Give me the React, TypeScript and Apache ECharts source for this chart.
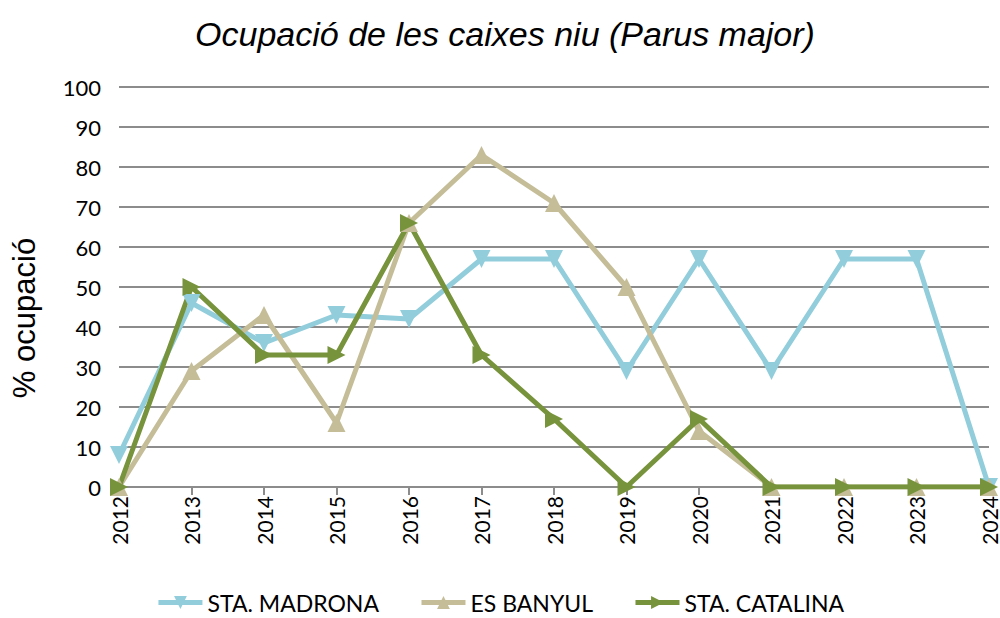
import React, { useEffect, useRef } from "react";
import * as echarts from "echarts";

const years = ["2012", "2013", "2014", "2015", "2016", "2017", "2018", "2019", "2020", "2021", "2022", "2023", "2024"];
const madrona = [8, 46, 36, 43, 42, 57, 57, 29, 57, 29, 57, 57, 0];
const banyul = [0, 29, 43, 16, 66, 83, 71, 50, 14, 0, 0, 0, 0];
const catalina = [0, 50, 33, 33, 66, 33, 17, 0, 17, 0, 0, 0, 0];

const FONT = "Lato, 'Open Sans', sans-serif";

export default function App() {
  const ref = useRef<HTMLDivElement>(null);
  useEffect(() => {
    const chart = echarts.init(ref.current!, null, { renderer: "svg" });
    const mk = (name: string, data: number[], color: string, rotate: number) => ({
      name,
      type: "line",
      data,
      symbol: "triangle",
      symbolSize: 18,
      symbolRotate: rotate,
      showSymbol: true,
      lineStyle: { color, width: 5 },
      itemStyle: { color, borderWidth: 0 },
      z: 3,
    });
    chart.setOption({
      animation: false,
      backgroundColor: "#ffffff",
      title: {
        text: "Ocupació de les caixes niu (Parus major)",
        left: 500,
        textAlign: "center",
        top: 12,
        textStyle: { fontFamily: "'Liberation Sans', Arial, sans-serif", fontStyle: "italic", fontWeight: "normal", fontSize: 34, color: "#000" },
      },
      grid: { left: 119, right: 11, top: 87, bottom: 131, containLabel: false },
      xAxis: {
        type: "category",
        data: years,
        boundaryGap: false,
        axisLine: { show: true, lineStyle: { color: "#8c8c8c", width: 2 } },
        axisTick: { show: true, alignWithLabel: true, length: 8, lineStyle: { color: "#8c8c8c", width: 2 } },
        axisLabel: { rotate: 90, fontSize: 21, color: "#000", fontFamily: FONT, margin: 9, interval: 0 },
      },
      yAxis: {
        type: "value",
        min: 0,
        max: 100,
        interval: 10,
        axisLine: { show: false },
        axisTick: { show: false },
        splitLine: { lineStyle: { color: "#8c8c8c", width: 2 } },
        axisLabel: { fontSize: 22, color: "#000", fontFamily: FONT, margin: 18 },
      },
      legend: {
        top: 586,
        left: "center",
        itemWidth: 44,
        itemHeight: 16,
        itemGap: 40,
        lineStyle: { width: 5 },
        textStyle: { fontSize: 23, color: "#000", fontFamily: FONT },
        data: ["STA. MADRONA", "ES BANYUL", "STA. CATALINA"],
      },
      graphic: [
        {
          type: "text",
          x: 24,
          y: 318,
          rotation: Math.PI / 2,
          style: {
            text: "% ocupació",
            fontSize: 31,
            fontFamily: "'Liberation Sans', Arial, sans-serif",
            fill: "#000",
            align: "center",
            verticalAlign: "middle",
          },
        },
      ],
      series: [
        mk("STA. MADRONA", madrona, "#92CDDC", 180),
        mk("ES BANYUL", banyul, "#C4BD97", 0),
        mk("STA. CATALINA", catalina, "#77933C", -90),
      ],
    });
    return () => chart.dispose();
  }, []);
  return <div ref={ref} style={{ position: "fixed", left: 0, top: 0, width: 1000, height: 618 }} />;
}
